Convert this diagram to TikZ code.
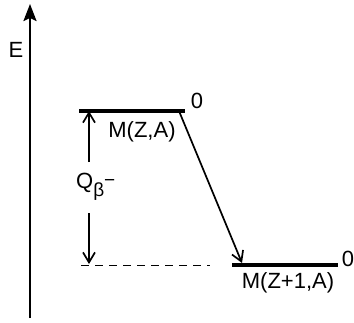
\documentclass[tikz,border=0pt]{standalone}
\usepackage{fontspec}
\setmainfont{Liberation Sans}
\usetikzlibrary{arrows.meta,positioning}
\newcommand{\smallsz}{\fontsize{19}{19}\selectfont}
\begin{document}
\begin{tikzpicture}[x=1pt,y=-1pt,font=\fontsize{22}{25}\selectfont,>={Straight Barb[length=10pt,width=12pt]},
 level/.style={line width=4.5pt},
 conn/.style={line width=1.7pt,->}]
\useasboundingbox (0,0) rectangle (354,322);
% energy axis
\coordinate (axb) at (30,318);
\coordinate (axt) at (30,4);
\draw[line width=2.2pt,-{Stealth[length=17pt,width=13pt,inset=3pt]}] (axb)--(axt);
\node (E) at (16,50) {E};
% levels
\coordinate (ua) at (79,111); \coordinate (ub) at (185,111);
\coordinate (la) at (232,265); \coordinate (lb) at (338,265);
\draw[level] (ua)--(ub);
\draw[level] (la)--(lb);
\node (zu) at (197,101) {0};
\node (zl) at (348,259) {0};
\node (mza) at (142,132) {M(Z,A)};
\node (mzb) at (288,283) {M(Z+1,A)};
% Q value
\coordinate (dl) at (81,265); \coordinate (dr) at (210,265);
\draw[line width=1pt,dash pattern=on 8pt off 6pt] (dl)--(dr);
\node[anchor=base west,inner sep=0pt] (q) at (76,188) {Q\raisebox{-8pt}{\smallsz β}\raisebox{2pt}{\smallsz −}};
\coordinate (qa) at (89,162); \coordinate (qb) at (89,111);
\coordinate (qc) at (89,213); \coordinate (qd) at (89,264);
\draw[conn] (qa)--(qb);
\draw[conn] (qc)--(qd);
% decay
\coordinate (ds) at (179,111); \coordinate (de) at (242,263);
\draw[conn] (ds)--(de);
\end{tikzpicture}
\end{document}
